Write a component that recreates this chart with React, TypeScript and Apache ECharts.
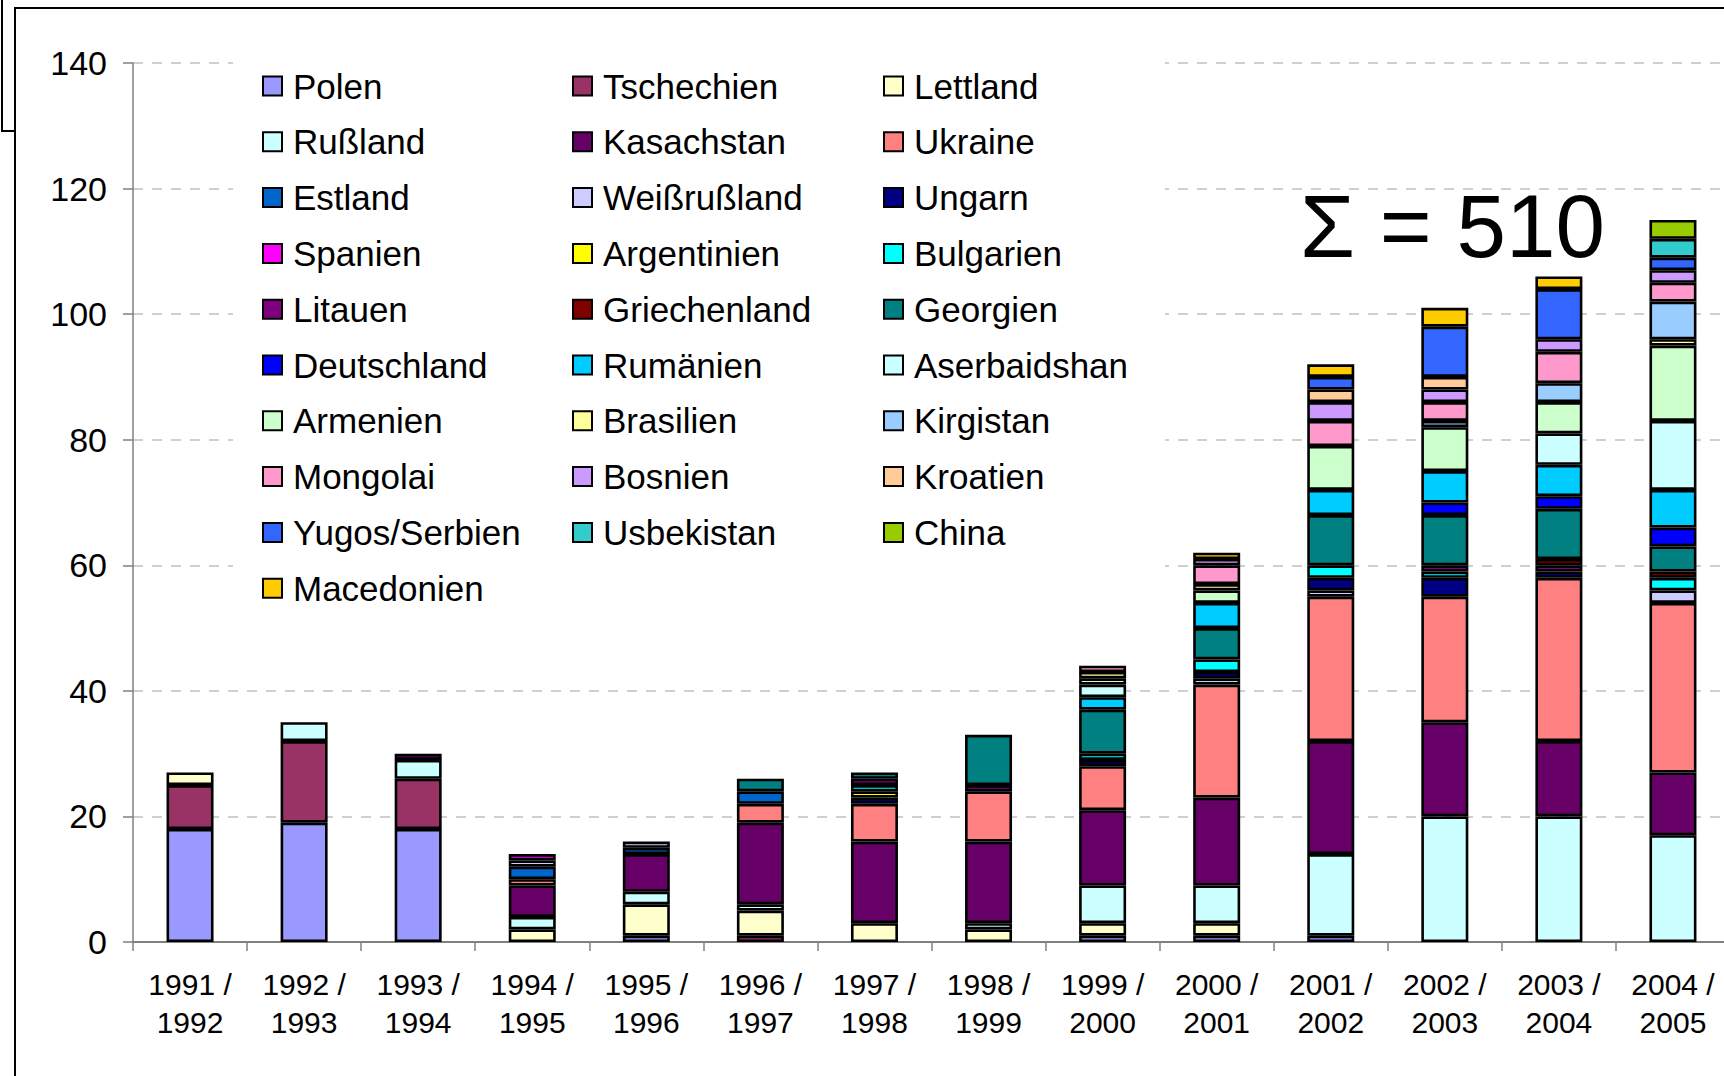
import React, { useEffect, useRef } from "react";
import * as echarts from "echarts";

const categories = [
  "1991 /\n1992", "1992 /\n1993", "1993 /\n1994", "1994 /\n1995", "1995 /\n1996",
  "1996 /\n1997", "1997 /\n1998", "1998 /\n1999", "1999 /\n2000", "2000 /\n2001",
  "2001 /\n2002", "2002 /\n2003", "2003 /\n2004", "2004 /\n2005",
];

const yTicks = { min: 0, max: 140, interval: 20 };

const countries = [
  "Polen", "Tschechien", "Lettland", "Rußland", "Kasachstan", "Ukraine", "Estland",
  "Weißrußland", "Ungarn", "Spanien", "Argentinien", "Bulgarien", "Litauen",
  "Griechenland", "Georgien", "Deutschland", "Rumänien", "Aserbaidshan", "Armenien",
  "Brasilien", "Kirgistan", "Mongolai", "Bosnien", "Kroatien", "Yugos/Serbien",
  "Usbekistan", "China", "Macedonien",
];

const colors = [
  "#9999FF", "#993366", "#FFFFCC", "#CCFFFF", "#660066", "#FF8080", "#0066CC",
  "#CCCCFF", "#000080", "#FF00FF", "#FFFF00", "#00FFFF", "#800080",
  "#800000", "#008080", "#0000FF", "#00CCFF", "#CCFFFF", "#CCFFCC",
  "#FFFF99", "#99CCFF", "#FF99CC", "#CC99FF", "#FFCC99", "#3366FF",
  "#33CCCC", "#99CC00", "#FFCC00",
];

const polen = [18, 19, 18, 0, 1, 0, 0, 0, 1, 1, 1, 0, 0, 0];
const tschechien = [7, 13, 8, 0, 0, 1, 0, 0, 0, 0, 0, 0, 0, 0];
const lettland = [2, 0, 0, 2, 5, 4, 3, 2, 2, 2, 0, 0, 0, 0];
const russland = [0, 3, 3, 2, 2, 1, 0, 1, 6, 6, 13, 20, 20, 17];
const kasachstan = [0, 0, 1, 5, 6, 13, 13, 13, 12, 14, 18, 15, 12, 10];
const ukraine = [0, 0, 0, 1, 0, 3, 6, 8, 7, 18, 23, 20, 26, 27];
const estland = [0, 0, 0, 2, 1, 2, 0, 0, 0, 0, 0, 0, 0, 0];
const weissrussland = [0, 0, 0, 1, 1, 0, 0, 0, 0, 1, 1, 0, 0, 2];
const ungarn = [0, 0, 0, 0, 0, 0, 1, 0, 1, 1, 2, 3, 1, 0];
const spanien = [0, 0, 0, 1, 0, 0, 0, 0, 0, 0, 0, 0, 0, 0];
const argentinien = [0, 0, 0, 0, 0, 0, 1, 0, 0, 0, 0, 0, 0, 0];
const bulgarien = [0, 0, 0, 0, 0, 0, 1, 0, 1, 2, 2, 1, 0, 2];
const litauen = [0, 0, 0, 0, 0, 0, 1, 1, 0, 0, 0, 1, 1, 0];
const griechenland = [0, 0, 0, 0, 0, 0, 0, 0, 0, 0, 0, 0, 1, 1];
const georgien = [0, 0, 0, 0, 0, 2, 1, 8, 7, 5, 8, 8, 8, 4];
const deutschland = [0, 0, 0, 0, 0, 0, 0, 0, 0, 0, 0, 2, 2, 3];
const rumaenien = [0, 0, 0, 0, 0, 0, 0, 0, 2, 4, 4, 5, 5, 6];
const aserbaidshan = [0, 0, 0, 0, 0, 0, 0, 0, 2, 0, 0, 0, 5, 11];
const armenien = [0, 0, 0, 0, 0, 0, 0, 0, 1, 2, 7, 7, 5, 12];
const brasilien = [0, 0, 0, 0, 0, 0, 0, 0, 1, 1, 0, 0, 0, 1];
const kirgistan = [0, 0, 0, 0, 0, 0, 0, 0, 0, 0, 0, 1, 3, 6];
const mongolai = [0, 0, 0, 0, 0, 0, 0, 0, 1, 3, 4, 3, 5, 3];
const bosnien = [0, 0, 0, 0, 0, 0, 0, 0, 0, 1, 3, 2, 2, 2];
const kroatien = [0, 0, 0, 0, 0, 0, 0, 0, 0, 0, 2, 2, 0, 0];
const yugosSerbien = [0, 0, 0, 0, 0, 0, 0, 0, 0, 0, 2, 8, 8, 2];
const usbekistan = [0, 0, 0, 0, 0, 0, 0, 0, 0, 0, 0, 0, 0, 3];
const china = [0, 0, 0, 0, 0, 0, 0, 0, 0, 0, 0, 0, 0, 3];
const macedonien = [0, 0, 0, 0, 0, 0, 0, 0, 0, 1, 2, 3, 2, 0];

const values = [
  polen, tschechien, lettland, russland, kasachstan, ukraine, estland,
  weissrussland, ungarn, spanien, argentinien, bulgarien, litauen,
  griechenland, georgien, deutschland, rumaenien, aserbaidshan, armenien,
  brasilien, kirgistan, mongolai, bosnien, kroatien, yugosSerbien,
  usbekistan, china, macedonien,
];

const sumText = "Σ = 510";

const FONT = '"Liberation Sans", Arial, sans-serif';

export default function App() {
  const ref = useRef<HTMLDivElement>(null);

  useEffect(() => {
    if (!ref.current) return;
    const chart = echarts.init(ref.current, undefined, { renderer: "svg" });

    const series = countries.map((name, i) => ({
      name,
      type: "bar",
      stack: "total",
      barWidth: 47,
      data: values[i].map((v) => (v === 0 ? "-" : v)),
      itemStyle: { color: colors[i], borderColor: "#000", borderWidth: 2.6 },
      emphasis: { disabled: true },
    }));

    const col = (k: number) => countries.filter((_, i) => i % 3 === k);
    const legendBase = {
      orient: "vertical",
      top: 68,
      padding: 0,
      itemWidth: 19,
      itemHeight: 19,
      itemGap: 19.8,
      icon: "rect",
      selectedMode: false,
      textStyle: {
        fontSize: 35,
        fontFamily: FONT,
        color: "#000",
        lineHeight: 36,
        padding: [0, 0, 0, 6],
      },
    };

    chart.setOption({
      animation: false,
      backgroundColor: "#fff",
      grid: {
        left: 133,
        top: 63,
        width: 1597,
        height: 879,
        containLabel: false,
        outerBoundsMode: "none",
      },
      legend: [
        { ...legendBase, data: col(0), left: 262 },
        { ...legendBase, data: col(1), left: 572 },
        { ...legendBase, data: col(2), left: 883 },
      ],
      xAxis: {
        type: "category",
        data: categories,
        axisLine: { lineStyle: { color: "#808080", width: 2 } },
        axisTick: { show: true, length: 9, lineStyle: { color: "#808080", width: 1.5 } },
        axisLabel: {
          fontSize: 30,
          fontFamily: FONT,
          color: "#000",
          lineHeight: 38,
          margin: 23,
          interval: 0,
        },
      },
      yAxis: {
        type: "value",
        min: yTicks.min,
        max: yTicks.max,
        interval: yTicks.interval,
        axisLine: { show: true, lineStyle: { color: "#808080", width: 1.5 } },
        axisTick: { show: true, length: 10, lineStyle: { color: "#808080", width: 1.5 } },
        axisLabel: { fontSize: 34, fontFamily: FONT, color: "#000", margin: 26 },
        splitLine: {
          show: true,
          lineStyle: { color: "#c0c0c0", type: [10, 9], width: 1.5 },
        },
      },
      graphic: [
        {
          type: "rect",
          z: 1,
          shape: { x: 233, y: 50, width: 932, height: 562 },
          style: { fill: "#fff" },
        },
        {
          type: "polyline",
          z: 10,
          shape: { points: [[2, 0], [2, 131], [15, 131]] },
          style: { stroke: "#000", lineWidth: 2, fill: "none" },
        },
        {
          type: "polyline",
          z: 10,
          shape: { points: [[15, 1076], [15, 8], [1724, 8]] },
          style: { stroke: "#000", lineWidth: 2, fill: "none" },
        },
        {
          type: "text",
          z: 10,
          x: 1300,
          y: 226,
          style: {
            text: sumText,
            font: `89px ${FONT}`,
            fill: "#000",
            align: "left",
            verticalAlign: "middle",
          },
        },
      ],
      series,
    });

    return () => chart.dispose();
  }, []);

  return (
    <div
      ref={ref}
      style={{ position: "fixed", left: 0, top: 0, width: 1724, height: 1076, background: "#fff" }}
    />
  );
}
